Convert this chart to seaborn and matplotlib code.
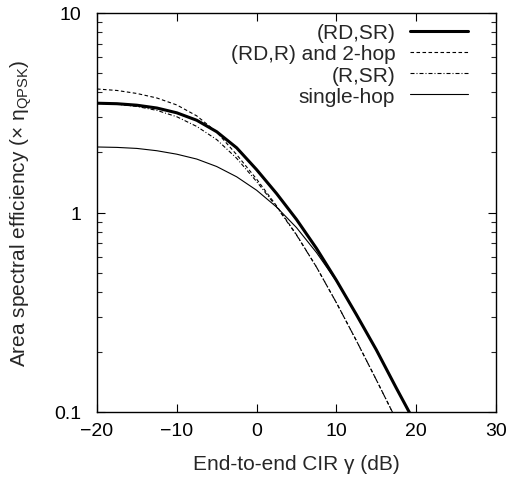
import numpy as np
import pandas as pd
import matplotlib
matplotlib.use("Agg")
import matplotlib.pyplot as plt
import seaborn as sns

# ---- data ----
gamma_db = [-20, -17.5, -15, -12.5, -10, -7.5, -5, -2.5, 0, 2.5, 5, 7.5, 10, 12.5, 15, 17.5, 20]
ase_rd_sr = [3.53, 3.51, 3.45, 3.34, 3.16, 2.90, 2.54, 2.11, 1.64, 1.245, 0.923, 0.661, 0.457, 0.308, 0.205, 0.132, 0.086]
ase_rd_r_2hop = [4.16, 4.09, 3.95, 3.75, 3.46, 3.05, 2.53, 1.95, 1.47, 1.08, 0.774, 0.533, 0.353, 0.228, 0.145, 0.0914, 0.058]
ase_r_sr = [3.53, 3.49, 3.40, 3.25, 3.02, 2.70, 2.32, 1.87, 1.43, 1.067, 0.771, 0.533, 0.353, 0.228, 0.145, 0.0914, 0.058]
ase_single = [2.13, 2.12, 2.095, 2.04, 1.96, 1.853, 1.70, 1.51, 1.293, 1.065, 0.840, 0.630, 0.453, 0.308, 0.205, 0.132, 0.086]
series_labels = ["(RD,SR)", "(RD,R) and 2-hop", "(R,SR)", "single-hop"]

x_ticks = [-20, -10, 0, 10, 20, 30]
x_tick_labels = ["\u221220", "\u221210", "0", "10", "20", "30"]
y_ticks = [0.1, 1, 10]
y_tick_labels = ["0.1", "1", "10"]

df = pd.DataFrame({
    "gamma": gamma_db * 4,
    "ase": ase_rd_sr + ase_rd_r_2hop + ase_r_sr + ase_single,
    "scheme": sum([[s] * len(gamma_db) for s in series_labels], []),
})

sns.set_style("ticks")
plt.rcParams["font.family"] = ["Liberation Sans", "DejaVu Sans"]
plt.rcParams["mathtext.fontset"] = "custom"
plt.rcParams["mathtext.rm"] = "Liberation Sans"
plt.rcParams["mathtext.it"] = "Liberation Sans:italic"

fig = plt.figure(figsize=(5.12, 4.81), dpi=100)
ax = fig.add_axes([97 / 512, 1 - 413 / 481, (496 - 97) / 512, (413 - 14) / 481])

styles = {
    "(RD,SR)": dict(lw=2.2, ls="-"),
    "(RD,R) and 2-hop": dict(lw=0.8, ls=(0, (3.2, 2.2))),
    "(R,SR)": dict(lw=0.8, ls=(0, (3.6, 1.8, 0.9, 1.8))),
    "single-hop": dict(lw=0.8, ls="-"),
}
for s in series_labels:
    sub = df[df["scheme"] == s]
    sns.lineplot(data=sub, x="gamma", y="ase", ax=ax, color="black",
                 label=s, linewidth=styles[s]["lw"], linestyle=styles[s]["ls"],
                 estimator=None, sort=False)

ax.set_yscale("log")
ax.set_xlim(-20, 30)
ax.set_ylim(0.1, 10)
ax.set_xticks(x_ticks)
ax.set_xticklabels(x_tick_labels)
ax.set_yticks(y_ticks)
ax.set_yticklabels(y_tick_labels)
ax.yaxis.set_minor_locator(matplotlib.ticker.LogLocator(base=10, subs=np.arange(2, 10)))
ax.yaxis.set_minor_formatter(matplotlib.ticker.NullFormatter())

ax.tick_params(axis="both", which="major", direction="in", length=6, width=0.8,
               top=True, right=True, labelsize=14, colors="black")
ax.tick_params(axis="y", which="major", pad=11)
ax.tick_params(axis="x", which="major", pad=7)
ax.tick_params(axis="y", which="minor", direction="in", length=3.5, width=0.8,
               left=True, right=True)
for sp in ax.spines.values():
    sp.set_linewidth(1.0)
    sp.set_color("black")

ax.set_xlabel("End-to-end CIR \u03b3 (dB)", fontsize=15)
ax.set_ylabel("Area spectral efficiency (\u00d7 \u03b7$_{\\mathrm{QPSK}}$)", fontsize=15)
ax.xaxis.set_label_coords(0.5, -(465 - 413) / 399, transform=ax.transAxes)
ax.xaxis.label.set_va("center")
ax.yaxis.set_label_coords((21 - 97) / 399, 0.5, transform=ax.transAxes)
ax.yaxis.label.set_va("center")

leg = ax.legend(loc="upper right", bbox_to_anchor=((478 - 97) / 399, 1.0), frameon=False,
                markerfirst=False, fontsize=15, handlelength=2.75, handletextpad=0.72,
                labelspacing=0.1, borderaxespad=0.0, borderpad=0.5)
for t in leg.get_texts():
    t.set_ha("right")

fig.savefig("out.png", dpi=100)
